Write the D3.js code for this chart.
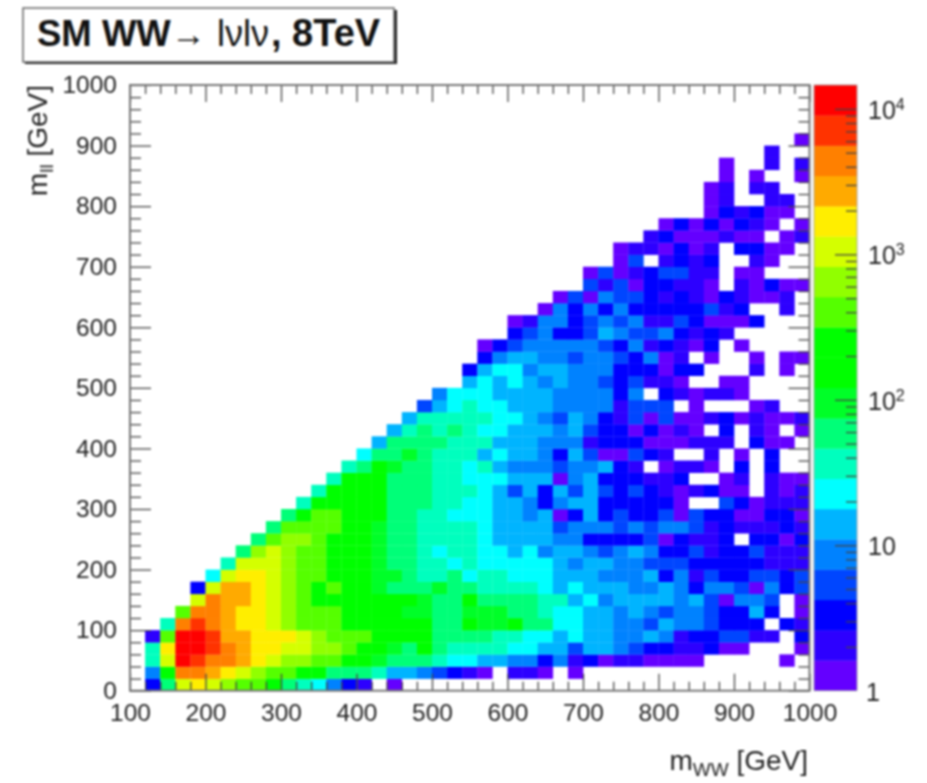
<!DOCTYPE html>
<html>
<head>
<meta charset="utf-8">
<script src="https://d3js.org/d3.v7.min.js"></script>
<style>
  html, body { margin: 0; padding: 0; background: #fff; }
  svg { display: block; filter: blur(0.9px); }
  text { font-family: "Liberation Sans", Arial, sans-serif; fill: #222; }
</style>
</head>
<body>
<div id="graf"></div>
<script>
// one string per m_ll bin (20 GeV), bottom row first, one letter per m_WW bin (20 GeV)
// a = lowest colour level ... t = highest, "." = empty bin
const binLevels = [
  ".ciop onmmk ihgec b.a.. ..... ..... ..... ..... .....",
  ".ekrr qponm mkkii ihffe dcba. bba.a ..... ..... .....",
  ".hots rrqpo nnmmk kjiii hggff eeceb cabba aaa.. ...a.",
  ".hptt srqpp oonnm kkjik ihhhh ggffd ffedc cbbca a...a",
  ".bmtt sqqpp ponmm mkkkk iiiih hggfg ffeef ebccd dbb.c",
  "..hrs rqppo nmmmk kkkkk iikjj kiigg ffeed feedc cc.cb",
  "...mr rqppo nmmmk kkkjj iijjj iihgg ffefe deedc cfc.a",
  "....o rqqpo nmkkk kkkkj iikii iihhf gefff fefda eed.a",
  "....c oqqpo nmkmk kjiii jiihh hhgfg fffee fecee daecd",
  "..... goppo nmmkk kjjih highh gggff feeef cebdc cddcd",
  "..... .hooo nmmkk kjiih hghgg gggfe ffeed ddccc ccbbb",
  "..... ..ino nmmkk kjiih ghhgg fgeff edefe ccdbc cdbbb",
  "..... ...im nnmkk kjiih hhhgf fffee ccccd acbbc .ccac",
  "..... ....i mmmmk kjiih hhhgf fffde eeded eedbc bbbcb",
  "..... ..... ikmmk kkiih hgggf fefac fcdcc dadcc aacca",
  "..... ..... .hkkk kkiii hhggf fecef fcccc ca..d cabbb",
  "..... ..... ..hkk kkiii hhhgf dfcfd fdcdc babca a.bab",
  "..... ..... ...hk kkiii hhggg fffae fcccb bc..a b.baa",
  "..... ..... ....h ikjii hhghf eeede efcb. abba. c.c..",
  "..... ..... ..... giiji hhhfg ffecf daadc b..b. a.c..",
  "..... ..... ..... .fiii ihhhf ffeee bccca aabbb .caa.",
  "..... ..... ..... ..fhi hihgg fffef dccac aba.c .ba.a",
  "..... ..... ..... ...fh hhhhg gfedf ecbda daabc abaab",
  "..... ..... ..... ....d fghgg fffee eebdd d.a.. .ab..",
  "..... ..... ..... ..... egggf fffee eece. cbabb a....",
  "..... ..... ..... ..... ..fgf gfefe edcdb ba..a a....",
  "..... ..... ..... ..... ..cfg geffe eeccc acc.. .b.a.",
  "..... ..... ..... ..... ...ce ffeed eedce ab.a. .a.aa",
  "..... ..... ..... ..... ...ac deeee edceb cbac. a....",
  "..... ..... ..... ..... ..... cdecc dfedd ecbcb .....",
  "..... ..... ..... ..... ..... abeec dedeb bdcaa ac...",
  "..... ..... ..... ..... ..... ..aec ececc cccdb c..b.",
  "..... ..... ..... ..... ..... ...ad aeddc bcbac baab.",
  "..... ..... ..... ..... ..... ..... dbdac cbba. bacaa",
  "..... ..... ..... ..... ..... ..... adabc ddbb. aa...",
  "..... ..... ..... ..... ..... ..... ..ad. bcbc. .ba..",
  "..... ..... ..... ..... ..... ..... ..abb acab. ccaa.",
  "..... ..... ..... ..... ..... ..... ....b caaab aa.ab",
  "..... ..... ..... ..... ..... ..... ..... acaca cba.a",
  "..... ..... ..... ..... ..... ..... ..... ...ac bcaa.",
  "..... ..... ..... ..... ..... ..... ..... ...ab ..bb.",
  "..... ..... ..... ..... ..... ..... ..... ...ab .bb..",
  "..... ..... ..... ..... ..... ..... ..... ....a .a..a",
  "..... ..... ..... ..... ..... ..... ..... ....a ..b.b",
  "..... ..... ..... ..... ..... ..... ..... ..... ..b..",
  "..... ..... ..... ..... ..... ..... ..... ..... ....a"
]

const levelKeys = "abcdefghijklmnopqrst".split("")
const levelColors = [
  "#6400ff", "#2d00ff", "#0000ff", "#0046ff", "#0082ff",
  "#00b4ff", "#00ffff", "#00ffbe", "#00ff78", "#00ff28",
  "#00ff00", "#00ff00", "#55ff00", "#91ff00", "#d4ff00",
  "#ffee00", "#ffaa00", "#ff8000", "#ff3300", "#ff0000"
]

const xMajor = [100, 200, 300, 400, 500, 600, 700, 800, 900, 1000]
const yMajor = [0, 100, 200, 300, 400, 500, 600, 700, 800, 900, 1000]
const binWidth = 20
const zMin = 1
const zMax = 14600
const zMajor = [1, 10, 100, 1000, 10000]

const svg = d3.select("#graf").append("svg").attr("width", 927).attr("height", 783)

const x = d3.scaleLinear().domain([100, 1000]).range([130, 809.5])
const y = d3.scaleLinear().domain([0, 1000]).range([690.7, 85])
const color = d3.scaleOrdinal().domain(levelKeys).range(levelColors)

// Celdas
const cells = []
binLevels.forEach((row, r) => {
  row.replace(/ /g, "").split("").forEach((level, c) => {
    if (level != ".") cells.push({ c, r, level })
  })
})

svg.append("g")
  .selectAll("rect")
  .data(cells)
  .join("rect")
  .attr("x", (d) => x(100 + d.c * binWidth))
  .attr("y", (d) => y((d.r + 1) * binWidth))
  .attr("width", x(100 + binWidth) - x(100) + 0.3)
  .attr("height", y(0) - y(binWidth) + 0.3)
  .attr("fill", (d) => color(d.level))

// Ticks en los cuatro lados
const xMinor = d3.range(100, 1001, binWidth).filter((d) => !xMajor.includes(d))
const yMinor = d3.range(0, 1001, binWidth).filter((d) => !yMajor.includes(d))

const styleAxis = (g) => {
  g.select(".domain").remove()
  g.selectAll("line").attr("stroke", "#444").attr("stroke-width", 1.3)
  g.selectAll("text").style("font-size", "24.5px").attr("fill", "#222")
}
const noLabel = () => ""

const addTicks = (axis, translate, major, minor, majorSize, minorSize, format) => {
  svg.append("g").attr("transform", translate)
    .call(axis.tickValues(minor).tickSize(minorSize).tickFormat(noLabel)).call(styleAxis)
  svg.append("g").attr("transform", translate)
    .call(axis.tickValues(major).tickSize(majorSize).tickFormat(format || noLabel)).call(styleAxis)
}

addTicks(d3.axisTop(x), `translate(0, ${y(0)})`, xMajor, xMinor, 17, 9)
addTicks(d3.axisBottom(x), `translate(0, ${y(1000)})`, xMajor, xMinor, 17, 9)
addTicks(d3.axisRight(y), `translate(${x(100)}, 0)`, yMajor, yMinor, 21, 11)
addTicks(d3.axisLeft(y), `translate(${x(1000)}, 0)`, yMajor, yMinor, 21, 11)

// Etiquetas de los ejes
svg.append("g").attr("transform", `translate(0, ${y(0) + 8})`)
  .call(d3.axisBottom(x).tickValues(xMajor).tickSize(0).tickPadding(5).tickFormat(d3.format("d")))
  .call(styleAxis)
svg.append("g").attr("transform", `translate(${x(100) - 13}, 0)`)
  .call(d3.axisLeft(y).tickValues(yMajor).tickSize(0).tickPadding(0).tickFormat(d3.format("d")))
  .call(styleAxis)

// Marco
svg.append("rect")
  .attr("x", x(100)).attr("y", y(1000))
  .attr("width", x(1000) - x(100)).attr("height", y(0) - y(1000))
  .attr("fill", "none").attr("stroke", "#777").attr("stroke-width", 2)

// Barra de color
const barLeft = 814
const barRight = 857
const z = d3.scaleLog().domain([zMin, zMax]).range([y(0), y(1000)])
const band = d3.scaleBand().domain(levelKeys.slice().reverse()).range([y(1000), y(0)])

svg.append("g")
  .selectAll("rect")
  .data(levelKeys)
  .join("rect")
  .attr("x", barLeft)
  .attr("y", (d) => band(d))
  .attr("width", barRight - barLeft)
  .attr("height", band.bandwidth() + 0.3)
  .attr("fill", (d) => color(d))

const zMinor = []
zMajor.slice(0, 4).forEach((m) => {
  d3.range(2, 10).forEach((k) => zMinor.push(m * k))
})
addTicks(d3.axisLeft(z), `translate(${barRight}, 0)`, zMajor.slice(1), zMinor, 22, 11)

svg.append("rect")
  .attr("x", barLeft).attr("y", y(1000))
  .attr("width", barRight - barLeft).attr("height", y(0) - y(1000))
  .attr("fill", "none").attr("stroke", "#999").attr("stroke-width", 0.8)

const zLabel = (value) => {
  const t = svg.append("text").attr("x", 868).attr("y", z(value) + 10).style("font-size", "25px")
  if (value < 100) {
    t.text(value)
    if (value == 1) t.attr("x", 866)
  } else {
    t.text("10")
    t.append("tspan").attr("dy", -9).style("font-size", "16px").text(Math.log10(value))
  }
}
zMajor.forEach(zLabel)

// Titulos de los ejes
const xTitle = svg.append("text").attr("x", 808).attr("y", 770)
  .attr("text-anchor", "end").style("font-size", "28px")
xTitle.append("tspan").text("m")
xTitle.append("tspan").attr("dy", 6).style("font-size", "19px").text("WW")
xTitle.append("tspan").attr("dy", -6).text(" [GeV]")

const yTitle = svg.append("text")
  .attr("transform", "translate(47, 85) rotate(-90)")
  .attr("text-anchor", "end").style("font-size", "28px")
yTitle.append("tspan").text("m")
yTitle.append("tspan").attr("dy", 6).style("font-size", "19px").text("ll")
yTitle.append("tspan").attr("dy", -6).text(" [GeV]")

// Caja del titulo
svg.append("rect").attr("x", 25).attr("y", 10).attr("width", 372).attr("height", 54).attr("fill", "#222")
svg.append("rect").attr("x", 23).attr("y", 8).attr("width", 371).attr("height", 54)
  .attr("fill", "#fff").attr("stroke", "#666").attr("stroke-width", 1.5)

const titleParts = [
  { t: "SM WW", x: 37, weight: "bold", size: 36.5 },
  { t: "\u2192", x: 171, weight: "normal", size: 35 },
  { t: "l\u03bdl\u03bd", x: 217, weight: "normal", size: 36 },
  { t: ", 8TeV", x: 271, weight: "bold", size: 38 }
]
svg.append("g")
  .selectAll("text")
  .data(titleParts)
  .join("text")
  .attr("x", (d) => d.x)
  .attr("y", 46)
  .style("font-size", (d) => d.size + "px")
  .style("font-weight", (d) => d.weight)
  .style("fill", "#111")
  .text((d) => d.t)
</script>
</body>
</html>
